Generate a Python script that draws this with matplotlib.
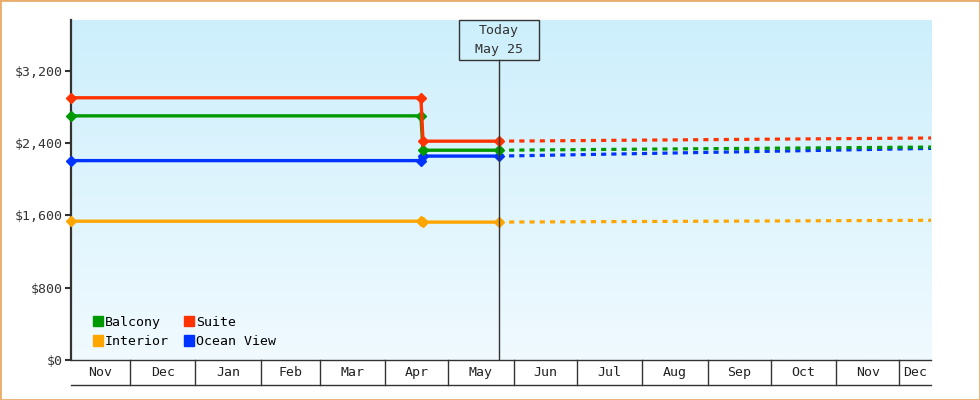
import matplotlib
matplotlib.use('Agg')
import matplotlib.pyplot as plt
import matplotlib.dates as mdates
import matplotlib.patches as mpatches
import matplotlib.transforms as mtransforms
from matplotlib.colors import LinearSegmentedColormap
import numpy as np
import pandas as pd

plt.rcParams['font.family'] = ['DejaVu Sans Mono']

# observed fares (solid lines)
hist_dates = pd.to_datetime(['2014-11-03', '2015-04-18', '2015-04-19', '2015-05-25'])
balcony = [2700, 2700, 2320, 2320]
suite = [2900, 2900, 2420, 2420]
interior = [1535, 1535, 1525, 1525]
ocean_view = [2205, 2205, 2255, 2255]

# forecast (dashed lines)
fc_dates = pd.to_datetime(['2015-05-25', '2015-12-16'])
balcony_fc = [2320, 2355]
suite_fc = [2420, 2455]
interior_fc = [1525, 1545]
ocean_view_fc = [2255, 2340]

today = pd.Timestamp('2015-05-25')
today_label = 'Today\nMay 25'
x_start = pd.Timestamp('2014-11-03')
x_end = pd.Timestamp('2015-12-16')
month_labels = ['Nov', 'Dec', 'Jan', 'Feb', 'Mar', 'Apr', 'May',
                'Jun', 'Jul', 'Aug', 'Sep', 'Oct', 'Nov', 'Dec']
y_ticks = [0, 800, 1600, 2400, 3200]
y_max = 3760

colors = {'Balcony': '#009900', 'Interior': '#ffa500',
          'Ocean View': '#0033ff', 'Suite': '#ff3300'}
series = [
    ('Interior', interior, interior_fc),
    ('Ocean View', ocean_view, ocean_view_fc),
    ('Balcony', balcony, balcony_fc),
    ('Suite', suite, suite_fc),
]
legend_order = ['Balcony', 'Interior', 'Suite', 'Ocean View']

fig = plt.figure(figsize=(9.8, 4), dpi=100)
ax = fig.add_axes([71 / 980, 40 / 400, 860 / 980, 340 / 400])

# background gradient
grad = np.linspace(0, 1, 256).reshape(-1, 1)
cmap = LinearSegmentedColormap.from_list('bg', ['#f0faff', '#cdeffc'])
ax.imshow(grad, extent=[0, 1, 0, 1], transform=ax.transAxes, cmap=cmap,
          aspect='auto', origin='lower', zorder=0)

for name, hist, fc in series:
    ax.plot(fc_dates, fc, color=colors[name], lw=2.3,
            linestyle=(0, (1.6, 1.6)), zorder=3, clip_on=False)
    ax.plot(hist_dates, hist, color=colors[name], lw=2.4, marker='D', ms=5.5,
            zorder=4, clip_on=False)

x0, x1 = mdates.date2num(x_start), mdates.date2num(x_end)
ax.set_xlim(x0, x1)
ax.set_ylim(0, y_max)
ax.set_xticks([])
ax.set_yticks(y_ticks)
ax.set_yticklabels([f'${v:,}' for v in y_ticks])
ax.tick_params(axis='y', length=4, width=1.5, color='#333333', pad=2,
               labelsize=9.5, labelcolor='#333333')
for s in ['top', 'right']:
    ax.spines[s].set_visible(False)
ax.spines['left'].set_linewidth(1.6)
ax.spines['left'].set_color('#333333')
ax.spines['bottom'].set_linewidth(1)
ax.spines['bottom'].set_color('#333333')

# month cells under the axis
trans = mtransforms.blended_transform_factory(ax.transData, ax.transAxes)
cell_bottom = -0.0735
bounds = [mdates.date2num(b) for b in pd.date_range(x_start, x_end, freq='MS')]
for b in bounds:
    ax.plot([b, b], [0, cell_bottom], transform=trans, color='#333333',
            lw=1, clip_on=False)
ax.plot([x0, x1], [cell_bottom, cell_bottom], transform=trans,
        color='#333333', lw=1, clip_on=False)
edges = [x0] + bounds + [x1]
for lab, a, b in zip(month_labels, edges[:-1], edges[1:]):
    ax.text((a + b) / 2, -0.037, lab, transform=trans, ha='center',
            va='center', fontsize=9.5, color='#222222')

# today marker
t = mdates.date2num(today)
frac = (t - x0) / (x1 - x0)
box_w = 80 / 860
box_bottom = 1 - 40 / 340
ax.plot([t, t], [0, box_bottom], transform=trans, color='#333333', lw=1,
        zorder=5)
ax.add_patch(mpatches.Rectangle((frac - box_w / 2, box_bottom), box_w,
                                1 - box_bottom, transform=ax.transAxes,
                                fill=False, ec='#333333', lw=1, zorder=5,
                                clip_on=False))
ax.text(frac, (1 + box_bottom) / 2, today_label, transform=ax.transAxes,
        ha='center', va='center', fontsize=9.5, color='#333333',
        linespacing=1.6)

# legend
handles = [mpatches.Patch(color=colors[n], label=n) for n in legend_order]
ax.legend(handles=handles, ncol=2, loc='lower left',
          bbox_to_anchor=(0.025, 0.035), frameon=False, borderpad=0,
          borderaxespad=0, handlelength=0.8, handleheight=0.8,
          handletextpad=0.15, columnspacing=1.1, labelspacing=0.5,
          prop={'size': 9.5})

# outer border
fig.patches.append(mpatches.Rectangle((0, 0), 1, 1, transform=fig.transFigure,
                                      fill=False, ec='#e9ad6c', lw=2))

fig.savefig('out.png', dpi=100)
